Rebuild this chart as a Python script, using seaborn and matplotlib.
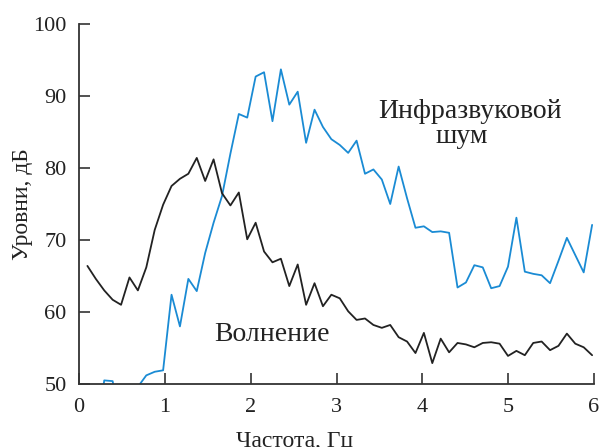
import matplotlib
matplotlib.use("Agg")
import matplotlib.pyplot as plt
import seaborn as sns
import pandas as pd

# frequency grid (Hz)
freq = [0.098, 0.196, 0.294, 0.392, 0.490, 0.588, 0.686, 0.784, 0.882, 0.980,
        1.078, 1.176, 1.274, 1.372, 1.470, 1.568, 1.666, 1.764, 1.862, 1.960,
        2.058, 2.156, 2.254, 2.352, 2.450, 2.548, 2.646, 2.744, 2.842, 2.940,
        3.038, 3.136, 3.234, 3.332, 3.430, 3.528, 3.626, 3.724, 3.822, 3.920,
        4.018, 4.116, 4.214, 4.312, 4.410, 4.508, 4.606, 4.704, 4.802, 4.900,
        4.998, 5.096, 5.194, 5.292, 5.390, 5.488, 5.586, 5.684, 5.782, 5.880,
        5.978]

# "Волнение" (waves), dB
waves = [66.4, 64.6, 63.0, 61.7, 61.0, 64.8, 63.0, 66.2, 71.4, 74.9,
         77.5, 78.5, 79.2, 81.4, 78.2, 81.2, 76.5, 74.8, 76.6, 70.1,
         72.4, 68.4, 66.9, 67.4, 63.6, 66.6, 61.0, 64.0, 60.8, 62.4,
         61.9, 60.1, 58.9, 59.1, 58.2, 57.8, 58.2, 56.5, 55.9, 54.3,
         57.1, 52.9, 56.3, 54.4, 55.7, 55.5, 55.1, 55.7, 55.8, 55.6,
         53.9, 54.6, 54.0, 55.7, 55.9, 54.7, 55.3, 57.0, 55.6, 55.1,
         54.0]

# "Инфразвуковой шум" (infrasound noise), dB
infra = [44.0, 42.0, 50.5, 50.4, 44.0, 45.0, 49.6, 51.2, 51.7, 51.9,
         62.4, 58.0, 64.6, 62.9, 68.2, 72.4, 76.1, 82.0, 87.5, 87.0,
         92.7, 93.3, 86.5, 93.7, 88.8, 90.6, 83.5, 88.1, 85.7, 84.0,
         83.2, 82.1, 83.8, 79.2, 79.8, 78.4, 75.0, 80.2, 75.8, 71.7,
         71.9, 71.1, 71.2, 71.0, 63.4, 64.1, 66.5, 66.2, 63.3, 63.6,
         66.3, 73.1, 65.6, 65.3, 65.1, 64.0, 67.1, 70.3, 67.9, 65.5,
         72.1]

xticks = [0, 1, 2, 3, 4, 5, 6]
yticks = [50, 60, 70, 80, 90, 100]

sns.set_theme(style="ticks")
plt.rcParams['font.family'] = ['Liberation Serif', 'DejaVu Serif']
plt.rcParams['xtick.direction'] = 'in'
plt.rcParams['ytick.direction'] = 'in'

df = pd.DataFrame({"f": freq, "waves": waves, "infra": infra})

fig = plt.figure(figsize=(6.03, 4.47), dpi=100)
ax = fig.add_axes([79/603, 1-384/447, (594-79)/603, (384-24)/447])

sns.lineplot(data=df, x="f", y="infra", ax=ax, color="#1a8bd4", linewidth=1.3)
sns.lineplot(data=df, x="f", y="waves", ax=ax, color="#222222", linewidth=1.3)

ax.set_xlim(0, 6)
ax.set_ylim(50, 100)
ax.set_xticks(xticks)
ax.set_yticks(yticks)
ax.tick_params(axis='both', labelsize=16, length=8, width=1.2, color="#333333",
               labelcolor="#222222")
ax.tick_params(axis='x', pad=10)
ax.tick_params(axis='y', pad=9)
for s in ['top', 'right']:
    ax.spines[s].set_visible(False)
for s in ['left', 'bottom']:
    ax.spines[s].set_linewidth(1.3)
    ax.spines[s].set_color("#333333")

ax.set_xlabel("Частота, Гц", fontsize=17, color="#222222")
ax.set_ylabel("Уровни, дБ", fontsize=17, color="#222222")
ax.xaxis.set_label_coords((295-79)/515, -(431-384)/360)
ax.yaxis.set_label_coords(-(79-33)/515, 0.5)

ax.text(4.56, 86.9, "Инфразвуковой", fontsize=20, ha='center', va='baseline', color="#222222")
ax.text(4.46, 83.5, "шум", fontsize=20, ha='center', va='baseline', color="#222222")
ax.text(2.25, 56.0, "Волнение", fontsize=20, ha='center', va='baseline', color="#222222")

fig.savefig("out.png", dpi=100)
